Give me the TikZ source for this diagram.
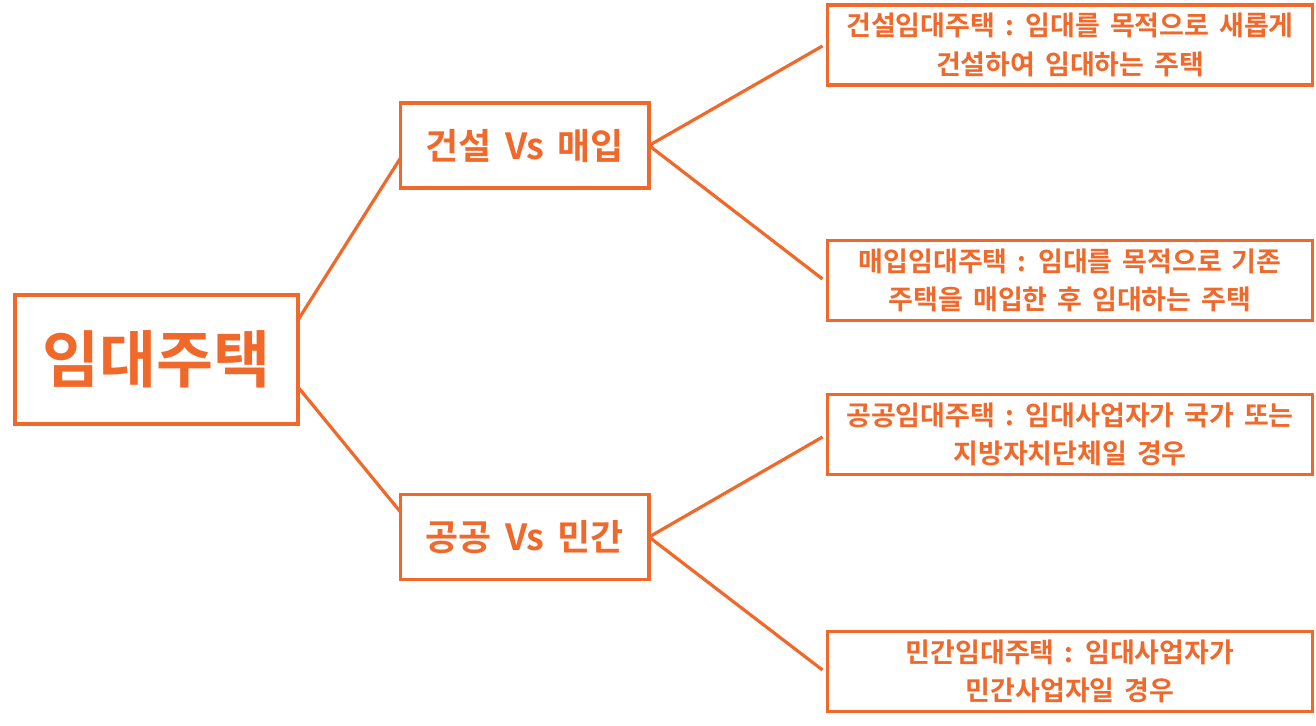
\documentclass[tikz,border=0pt]{standalone}
\usepackage{fontspec}
\newfontfamily\kr{Noto Sans CJK KR}[BoldFont={Noto Sans CJK KR Bold}]
\newfontfamily\krwide{Noto Sans CJK KR}[BoldFont={Noto Sans CJK KR Bold}, WordSpace=1.6]
\usetikzlibrary{calc}
\definecolor{orng}{RGB}{240,104,42}
\begin{document}
\begin{tikzpicture}[x=1pt,y=-1pt,
  box/.style={draw=orng, line width=3.5pt, outer sep=0pt, inner sep=0pt, text=orng, align=center},
  rootbox/.style={box, minimum width=283pt, minimum height=129pt, font=\kr\bfseries\fontsize{62}{72}\selectfont},
  midbox/.style={box, minimum width=248.5pt, minimum height=85pt, font=\krwide\bfseries\fontsize{36}{40}\selectfont},
  leafbox/.style={box, minimum width=485pt, minimum height=80pt, font=\krwide\bfseries\fontsize{27}{38.5}\selectfont},
  link/.style={draw=orng, line width=3.2pt}]
\useasboundingbox (0,0) rectangle (1316,725);
\node[rootbox] (root) at (156.5,359.5) {임대주택};
\node[midbox] (mid1) at (524.75,145.5) {건설 Vs 매입};
\node[midbox] (mid2) at (524.75,537) {공공 Vs 민간};
\node[leafbox] (leaf1) at (1070,45) {건설임대주택 : 임대를 목적으로 새롭게\\건설하여 임대하는 주택};
\node[leafbox] (leaf2) at (1070,280.5) {매입임대주택 : 임대를 목적으로 기존\\주택을 매입한 후 임대하는 주택};
\node[leafbox] (leaf3) at (1070,434.5) {공공임대주택 : 임대사업자가 국가 또는\\지방자치단체일 경우};
\node[leafbox] (leaf4) at (1070,671.5) {민간임대주택 : 임대사업자가\\민간사업자일 경우};
\draw[link] ($(root.east)+(0,-39.5)$) -- ($(mid1.west)+(0,12.5)$);
\draw[link] ($(root.east)+(0,27.5)$) -- ($(mid2.west)+(0,-25)$);
\draw[link] (mid1.east) -- ($(leaf1.west)+(-5,1)$);
\draw[link] (mid1.east) -- ($(leaf2.west)+(-5,-1.5)$);
\draw[link] (mid2.east) -- ($(leaf3.west)+(-5,2.5)$);
\draw[link] (mid2.east) -- ($(leaf4.west)+(-5,-1.5)$);
\end{tikzpicture}
\end{document}
